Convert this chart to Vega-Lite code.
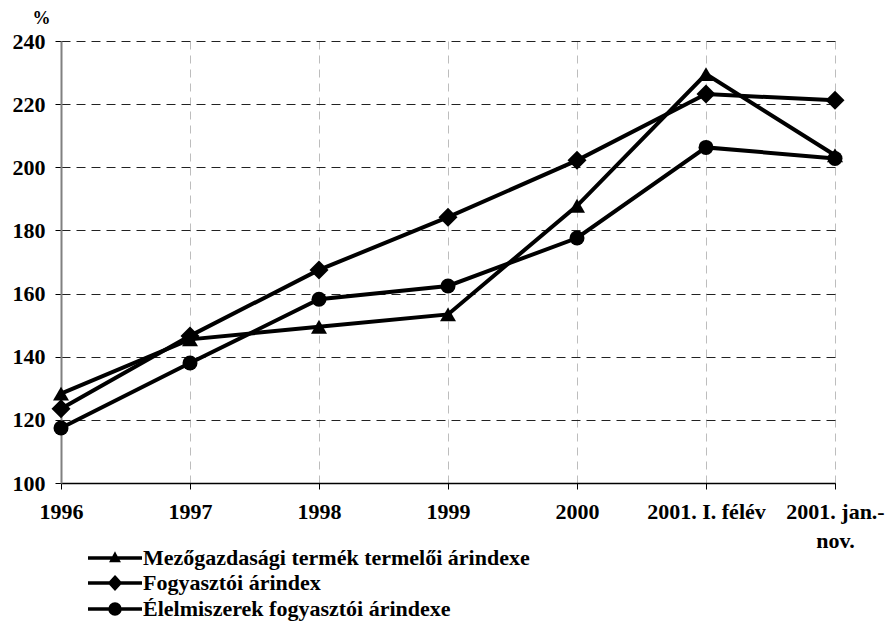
{
  "$schema": "https://vega.github.io/schema/vega-lite/v6.json",
  "width": 774,
  "height": 442,
  "autosize": "none",
  "padding": {"left": 61, "top": 41, "right": 52, "bottom": 142},
  "background": "white",
  "config": {
    "view": {"stroke": null},
    "font": "Liberation Serif"
  },
  "data": {
    "values": [
      {"series": "Mezőgazdasági termék termelői árindexe", "period": "1996", "value": 128.3},
      {"series": "Mezőgazdasági termék termelői árindexe", "period": "1997", "value": 145.5},
      {"series": "Mezőgazdasági termék termelői árindexe", "period": "1998", "value": 149.5},
      {"series": "Mezőgazdasági termék termelői árindexe", "period": "1999", "value": 153.4},
      {"series": "Mezőgazdasági termék termelői árindexe", "period": "2000", "value": 187.8},
      {"series": "Mezőgazdasági termék termelői árindexe", "period": "2001. I. félév", "value": 229.5},
      {"series": "Mezőgazdasági termék termelői árindexe", "period": "2001. jan.-nov.", "value": 203.8},
      {"series": "Fogyasztói árindex", "period": "1996", "value": 123.5},
      {"series": "Fogyasztói árindex", "period": "1997", "value": 146.6},
      {"series": "Fogyasztói árindex", "period": "1998", "value": 167.5},
      {"series": "Fogyasztói árindex", "period": "1999", "value": 184.2},
      {"series": "Fogyasztói árindex", "period": "2000", "value": 202.2},
      {"series": "Fogyasztói árindex", "period": "2001. I. félév", "value": 223.2},
      {"series": "Fogyasztói árindex", "period": "2001. jan.-nov.", "value": 221.2},
      {"series": "Élelmiszerek fogyasztói árindexe", "period": "1996", "value": 117.4},
      {"series": "Élelmiszerek fogyasztói árindexe", "period": "1997", "value": 138.0},
      {"series": "Élelmiszerek fogyasztói árindexe", "period": "1998", "value": 158.2},
      {"series": "Élelmiszerek fogyasztói árindexe", "period": "1999", "value": 162.4},
      {"series": "Élelmiszerek fogyasztói árindexe", "period": "2000", "value": 177.6},
      {"series": "Élelmiszerek fogyasztói árindexe", "period": "2001. I. félév", "value": 206.3},
      {"series": "Élelmiszerek fogyasztói árindexe", "period": "2001. jan.-nov.", "value": 202.8}
    ]
  },
  "encoding": {
    "x": {
      "field": "period",
      "type": "ordinal",
      "sort": null,
      "scale": {"type": "point", "padding": 0, "domain": ["1996", "1997", "1998", "1999", "2000", "2001. I. félév", "2001. jan.-nov."]},
      "axis": {
        "title": null,
        "labelFont": "Liberation Serif",
        "labelFontWeight": "bold",
        "labelFontSize": 22,
        "labelColor": "black",
        "labelAngle": 0,
        "labelPadding": 12,
        "labelBaseline": "top",
        "labelLineHeight": 29,
        "labelExpr": "datum.label == '2001. jan.-nov.' ? ['2001. jan.-', 'nov.'] : datum.label",
        "tickSize": 6,
        "tickColor": "black",
        "domainColor": "black",
        "domainWidth": 1.5,
        "grid": true,
        "gridColor": "#bdbdbd",
        "gridDash": [8, 6],
        "gridWidth": 1
      }
    },
    "y": {
      "field": "value",
      "type": "quantitative",
      "scale": {"domain": [100, 240], "nice": false, "zero": false},
      "axis": {
        "title": "%",
        "titleAngle": 0,
        "titleX": -20,
        "titleY": -23,
        "titleAlign": "center",
        "titleBaseline": "middle",
        "titleFont": "Liberation Serif",
        "titleFontWeight": "bold",
        "titleFontSize": 18,
        "titleColor": "black",
        "values": [100, 120, 140, 160, 180, 200, 220, 240],
        "labelFont": "Liberation Serif",
        "labelFontWeight": "bold",
        "labelFontSize": 22,
        "labelColor": "black",
        "labelPadding": 10,
        "tickSize": 6,
        "tickColor": "black",
        "domainColor": "#808080",
        "domainWidth": 2,
        "grid": true,
        "gridColor": "#222222",
        "gridDash": [9, 6],
        "gridWidth": 1
      }
    }
  },
  "layer": [
    {
      "mark": {"type": "line", "strokeWidth": 4},
      "encoding": {
        "color": {
          "field": "series",
          "type": "nominal",
          "scale": {
            "domain": ["Mezőgazdasági termék termelői árindexe", "Fogyasztói árindex", "Élelmiszerek fogyasztói árindexe"],
            "range": ["black", "black", "black"]
          },
          "legend": {
            "title": null,
            "orient": "none",
            "legendX": 42,
            "legendY": 505,
            "direction": "vertical",
            "padding": 0,
            "labelFont": "Liberation Serif",
            "labelFontWeight": "bold",
            "labelFontSize": 22,
            "labelColor": "black",
            "labelOffset": 16,
            "labelLimit": 0,
            "rowPadding": 1,
            "symbolSize": 400,
            "symbolType": "circle",
            "encode": {
              "symbols": {
                "update": {
                  "shape": {"signal": "datum.index == 0 ? 'M-2.7,0H2.7M0,-0.3L0.3,0.25L-0.3,0.25Z' : datum.index == 1 ? 'M-2.7,0H2.7M0,-0.55L0.5,0L0,0.55L-0.5,0Z' : 'M-2.7,0H2.7M0.5,0A0.5,0.5,0,1,1,-0.5,0A0.5,0.5,0,1,1,0.5,0Z'"},
                  "size": {"value": 400},
                  "fill": {"value": "black"},
                  "stroke": {"value": "black"},
                  "strokeWidth": {"value": 3.5},
                  "opacity": {"value": 1}
                }
              }
            }
          }
        }
      }
    },
    {
      "transform": [{"filter": "datum.series == 'Mezőgazdasági termék termelői árindexe'"}],
      "mark": {"type": "point", "filled": true, "color": "black", "opacity": 1, "shape": "triangle-up", "size": 256}
    },
    {
      "transform": [{"filter": "datum.series == 'Fogyasztói árindex'"}],
      "mark": {"type": "point", "filled": true, "color": "black", "opacity": 1, "shape": "diamond", "size": 361}
    },
    {
      "transform": [{"filter": "datum.series == 'Élelmiszerek fogyasztói árindexe'"}],
      "mark": {"type": "point", "filled": true, "color": "black", "opacity": 1, "shape": "circle", "size": 225}
    }
  ]
}
